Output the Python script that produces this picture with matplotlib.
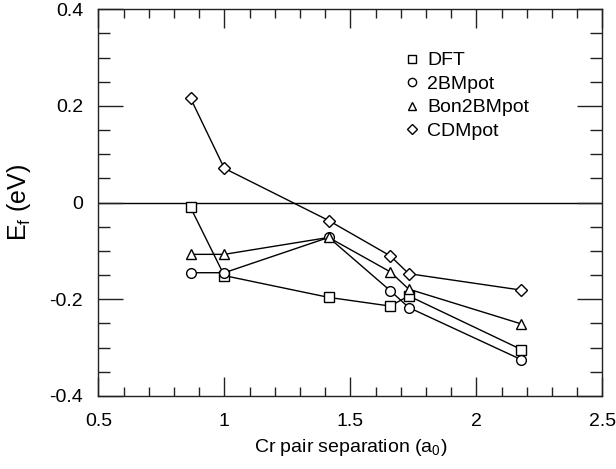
import matplotlib
matplotlib.use("Agg")
import matplotlib.pyplot as plt
from matplotlib.ticker import MultipleLocator

plt.rcParams['font.family'] = ['Liberation Sans', 'DejaVu Sans']
plt.rcParams['mathtext.fontset'] = 'custom'
plt.rcParams['mathtext.rm'] = 'Liberation Sans'
plt.rcParams['mathtext.it'] = 'Liberation Sans'

# pair separations (bcc neighbour shells, in a0)
sep = [0.866, 1.0, 1.414, 1.658, 1.732, 2.179]

dft = [-0.010, -0.151, -0.196, -0.214, -0.193, -0.304]
bm2 = [-0.145, -0.145, -0.072, -0.182, -0.217, -0.325]
bon2bm = [-0.107, -0.107, -0.072, -0.143, -0.179, -0.251]
cdm = [0.216, 0.071, -0.037, -0.110, -0.147, -0.181]

labels = ['DFT', '2BMpot', 'Bon2BMpot', 'CDMpot']
markers = ['s', 'o', '^', 'D']

fig = plt.figure(figsize=(6.16, 4.69), dpi=100)
ax = fig.add_axes([0.1596, 0.1557, 0.8182, 0.8245])

ax.axhline(0, color='black', lw=1.0, zorder=1)

handles = []
for vals, lab, mk in zip([dft, bm2, bon2bm, cdm], labels, markers):
    ms = 6.0 if mk == 'D' else 7.0
    ax.plot(sep, vals, '-', color='black', lw=1.0, zorder=2)
    h, = ax.plot(sep, vals, linestyle='none', marker=mk, ms=ms, mfc='white',
                 mec='black', mew=1.0, zorder=3, label=lab)
    handles.append(h)

ax.set_xlim(0.5, 2.5)
ax.set_ylim(-0.4, 0.4)
ax.xaxis.set_minor_locator(MultipleLocator(0.1))
ax.yaxis.set_minor_locator(MultipleLocator(0.05))
ax.set_xticks([0.5, 1, 1.5, 2, 2.5])
ax.set_xticklabels(['0.5', '1', '1.5', '2', '2.5'])
ax.set_yticks([-0.4, -0.2, 0, 0.2, 0.4])
ax.set_yticklabels(['-0.4', '-0.2', '0', '0.2', '0.4'])

ax.tick_params(axis='both', which='both', direction='in', top=True, right=True,
               labelsize=14, width=1.0, color='#222222')
ax.tick_params(axis='x', which='major', length=13.5, pad=12)
ax.tick_params(axis='x', which='minor', length=6.7)
ax.tick_params(axis='y', which='major', length=18, pad=11)
ax.tick_params(axis='y', which='minor', length=8.6)
for s in ax.spines.values():
    s.set_linewidth(1.0)
    s.set_color('#222222')

ax.set_xlabel(r'Cr pair separation (a$_0$)', fontsize=14, labelpad=5)
ax.set_ylabel(r'E$_\mathrm{f}$ (eV)', fontsize=18, labelpad=12)

leg = ax.legend(handles=handles, loc='upper left', bbox_to_anchor=(0.606, 0.89),
                frameon=False, fontsize=14, handlelength=0.8, handletextpad=0.4,
                labelspacing=0.3, borderpad=0, borderaxespad=0,
                markerscale=0.85)

fig.savefig('out.png', dpi=100)
